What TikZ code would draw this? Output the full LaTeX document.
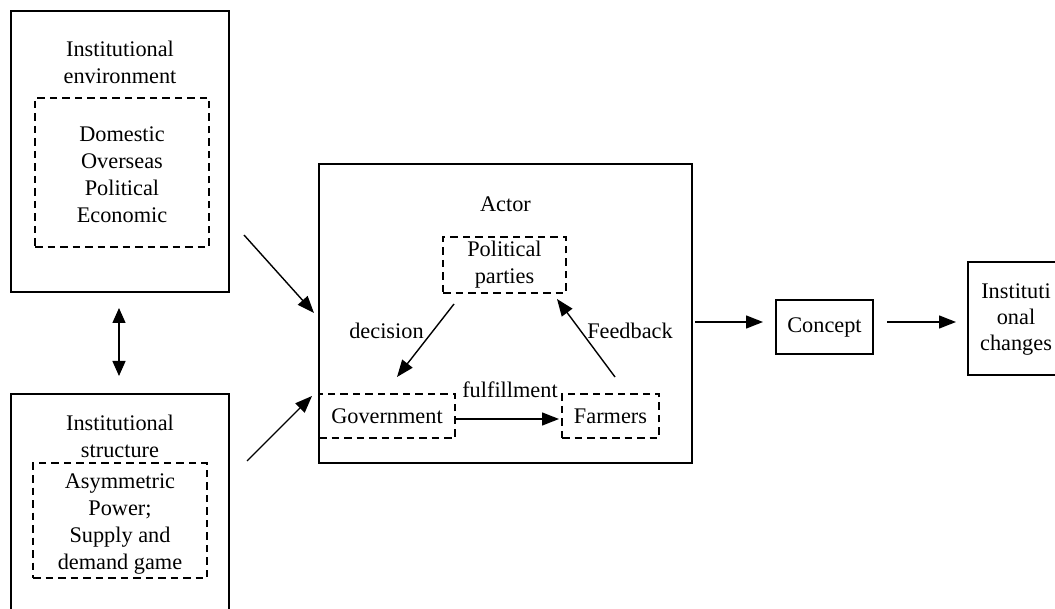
\documentclass[tikz,border=0pt]{standalone}
\usepackage{fontspec}
\setmainfont{Liberation Serif}
\usetikzlibrary{arrows.meta}
\begin{document}
\begin{tikzpicture}[x=1pt,y=-1pt,
  every node/.style={inner sep=0pt, outer sep=0pt, align=center},
  txt/.style={font=\fontsize{22.3}{27}\selectfont},
  solidbox/.style={draw, line width=1.5pt, rectangle},
  dashbox/.style={draw, line width=1.5pt, rectangle, dash pattern=on 7.5pt off 5pt},
  conn/.style={line width=1.4pt, -{Triangle[length=17pt,width=13pt]}},
  dconn/.style={line width=1.4pt, {Triangle[length=15pt,width=13pt]}-{Triangle[length=15pt,width=13pt]}},
]
\useasboundingbox (0,0) rectangle (1055,609);
\clip (0,0) rectangle (1055,609);

% left upper block
\node[solidbox, minimum width=218pt, minimum height=281pt] (env) at (120,151.5) {};
\node[txt] (envtitle) at (120,62) {Institutional\\environment};
\node[dashbox, minimum width=174pt, minimum height=149pt] (envin) at (122,172.5) {};
\node[txt] (envlist) at (122,175) {Domestic\\Overseas\\Political\\Economic};

% left lower block
\node[solidbox, minimum width=218pt, minimum height=246pt] (struct) at (120,517) {};
\node[txt] (structtitle) at (120,436) {Institutional\\structure};
\node[dashbox, minimum width=174pt, minimum height=115pt] (structin) at (120,520.5) {};
\node[txt] (structlist) at (120,524) {Asymmetric\\Power;\\Supply and\\demand game};

% actor block
\node[solidbox, minimum width=373pt, minimum height=299pt] (actor) at (505.5,313.5) {};
\node[txt] (actortitle) at (505.5,204) {Actor};
\node[dashbox, txt, minimum width=123pt, minimum height=56pt] (parties) at (504.5,265) {Political\\parties};
\node[dashbox, txt, minimum width=136pt, minimum height=44pt] (gov) at (387,416) {Government};
\node[dashbox, txt, minimum width=97pt, minimum height=44pt] (farm) at (610.5,416) {Farmers};

% right blocks
\node[solidbox, txt, minimum width=97pt, minimum height=54pt] (concept) at (824.5,327) {Concept};
\node[solidbox, minimum width=112pt, minimum height=113pt] (changes) at (1024,318.5) {};
\node[font=\fontsize{22.3}{26}\selectfont] (changestxt) at (1016,320) {Instituti\\onal\\changes};

% connectors
\coordinate (e1) at (244,235); \coordinate (a1) at (314,313);
\draw[conn] (e1) -- (a1);
\coordinate (s1) at (247,461); \coordinate (a2) at (312,396);
\draw[conn] (s1) -- (a2);
\coordinate (d1) at (119,308); \coordinate (d2) at (119,376);
\draw[dconn] (d1) -- (d2);

\coordinate (p1) at (454,304); \coordinate (g1) at (397,377);
\draw[conn] (p1) -- (g1);
\node[txt] (declab) at (386.5,331) {decision};
\coordinate (f1) at (615,377); \coordinate (p2) at (557,299);
\draw[conn] (f1) -- (p2);
\node[txt] (feedlab) at (630,331) {Feedback};
\draw[conn, shorten >=3pt] ([yshift=-3pt]gov.east) -- ([yshift=-3pt]farm.west);
\node[txt] (fullab) at (510,390) {fulfillment};

\coordinate (r1) at (695,322); \coordinate (r2) at (763,322);
\draw[conn] (r1) -- (r2);
\coordinate (r3) at (887,322); \coordinate (r4) at (956,322);
\draw[conn] (r3) -- (r4);
\end{tikzpicture}
\end{document}
